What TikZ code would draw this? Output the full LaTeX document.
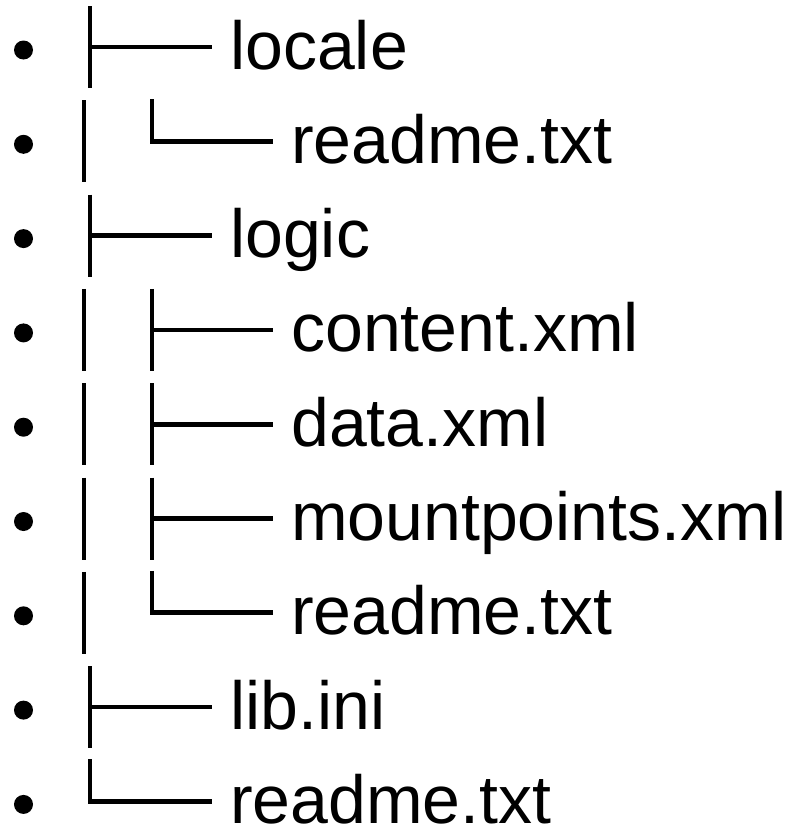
\documentclass[tikz,border=0pt]{standalone}
\usepackage{fontspec}
\setmainfont{Liberation Sans}
\begin{document}
\begin{tikzpicture}[x=1pt,y=-1pt,
  rule/.style={line width=4.7pt,line cap=butt},
  bulletdot/.style={circle,fill=black,inner sep=0pt,minimum size=19pt},
  entry/.style={anchor=base west,inner sep=0pt,font=\fontsize{68}{68}\selectfont}]
  \useasboundingbox (0,0) rectangle (793,827);
  \def\pitch{94.3}
  % bullets, one per line of the listing
  \foreach \i in {0,...,8}
    \node[bulletdot] (b\i) at (23.5,50+\i*\pitch) {};
  % entry names: level 1 and level 2 columns
  \foreach \i/\lx/\name in {0/230/locale,1/291/readme.txt,2/230/logic,
      3/291/content.xml,4/291/data.xml,5/291/mountpoints.xml,
      6/291/readme.txt,7/230/lib.ini,8/230/readme.txt}
    \node[entry] (t\i) at (\lx,69+\i*\pitch) {\name};
  % tee branches (├──)
  \foreach \i/\vx/\hx in {0/90/212,2/90/212,3/152/273,4/152/273,5/152/273,7/90/212}{
    \draw[rule] (\vx,47+\i*\pitch-41) -- (\vx,47+\i*\pitch+41);
    \draw[rule] (\vx,47+\i*\pitch) -- (\hx,47+\i*\pitch);
  }
  % corner branches (└──)
  \foreach \i/\vx/\hx in {1/152/273,6/152/273,8/90/212}
    \draw[rule] (\vx,47+\i*\pitch-42) -- (\vx,47+\i*\pitch) -- (\hx,47+\i*\pitch);
  % continuation bars (│)
  \foreach \i in {1,3,4,5,6}
    \draw[rule] (84,47+\i*\pitch-41) -- (84,47+\i*\pitch+41);
\end{tikzpicture}
\end{document}
